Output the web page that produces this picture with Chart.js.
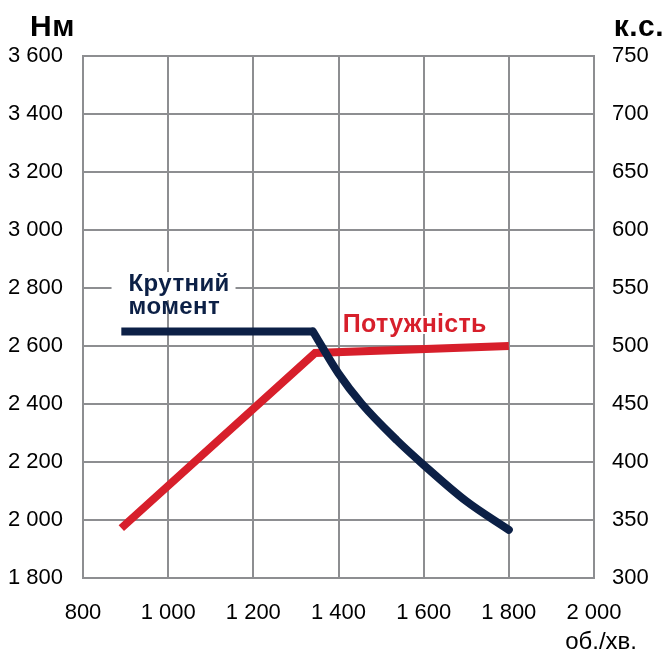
<!DOCTYPE html>
<html>
<head>
<meta charset="utf-8">
<script src="https://cdn.jsdelivr.net/npm/chart.js@4"></script>
<style>
    html, body { margin: 0; padding: 0; background: #fff; }
    #wrap { width: 665px; height: 650px; }
</style>
</head>
<body>
<div id="wrap"><canvas id="chart"></canvas></div>
<script>
// values
const rpmTicks = [800, 1000, 1200, 1400, 1600, 1800, 2000];
const torqueRpm = [890, 1340, 1400, 1455, 1537, 1600, 1700, 1800];
const torqueNm = [2650, 2650, 2505, 2400, 2275, 2190, 2065, 1966];
const powerRpm = [890, 1345, 1800];
const powerHp = [343, 494, 500];

const navy = '#0c2046';
const red = '#d71f2b';
const gridColor = '#8d8e91';
const fontFam = '"Liberation Sans", Arial, sans-serif';

const fmt = v => String(v).replace(/\B(?=(\d{3})+(?!\d))/g, ' ');

// flat part and falling part of the torque curve kept apart so the corner stays sharp
const flatPts = [], fallPts = [];
torqueRpm.forEach((r, i) => {
    const p = { x: r, y: torqueNm[i] };
    if (i <= 1) flatPts.push(p);
    if (i >= 1) fallPts.push(p);
});
const powerPts = powerRpm.map((r, i) => ({ x: r, y: powerHp[i] }));

const labelsPlugin = {
    id: 'labels',
    afterDatasetsDraw(chart) {
        const ctx = chart.ctx;
        const x = chart.scales.x, y = chart.scales.y;
        ctx.save();
        // white box behind "Крутний"
        ctx.fillStyle = '#fff';
        ctx.fillRect(x.getPixelForValue(867), y.getPixelForValue(2855), 124, 28);

        ctx.textBaseline = 'alphabetic';
        ctx.textAlign = 'left';
        ctx.font = 'bold 24px ' + fontFam;
        ctx.letterSpacing = '0.4px';
        ctx.fillStyle = navy;
        ctx.fillText('Крутний', x.getPixelForValue(907), y.getPixelForValue(2790));
        ctx.fillText('момент', x.getPixelForValue(907), y.getPixelForValue(2712));

        ctx.font = 'bold 25px ' + fontFam;
        ctx.letterSpacing = '0.3px';
        ctx.strokeStyle = '#fff';
        ctx.lineWidth = 4;
        ctx.lineJoin = 'round';
        const px = x.getPixelForValue(1410), py = y.getPixelForValue(2650);
        ctx.strokeText('Потужність', px, py);
        ctx.fillStyle = red;
        ctx.fillText('Потужність', px, py);

        // axis unit captions
        ctx.fillStyle = '#000';
        ctx.font = 'bold 30px ' + fontFam;
        ctx.letterSpacing = '0.5px';
        ctx.fillText('Нм', 30, 36);
        ctx.textAlign = 'right';
        ctx.fillText('к.с.', 664, 36);
        ctx.font = '24px ' + fontFam;
        ctx.letterSpacing = '0px';
        ctx.fillText('об./хв.', 637, 649);
        ctx.restore();
    }
};

new Chart(document.getElementById('chart'), {
    type: 'line',
    data: {
        datasets: [{
            label: 'Крутний момент',
            data: flatPts,
            borderColor: navy,
            borderWidth: 8,
            tension: 0,
            pointRadius: 0
        }, {
            label: 'Крутний момент (спад)',
            data: fallPts,
            borderColor: navy,
            borderWidth: 8,
            borderCapStyle: 'round',
            cubicInterpolationMode: 'monotone',
            pointRadius: 0
        }, {
            label: 'Потужність',
            data: powerPts,
            yAxisID: 'y1',
            borderColor: red,
            borderWidth: 8,
            tension: 0,
            pointRadius: 0
        }]
    },
    options: {
        responsive: true,
        maintainAspectRatio: false,
        animation: false,
        events: [],
        layout: { padding: { top: 56, left: 0, right: 0, bottom: 0 } },
        plugins: { legend: { display: false }, tooltip: { enabled: false } },
        scales: {
            x: {
                type: 'linear',
                min: 800, max: 2000,
                afterBuildTicks: s => { s.ticks = rpmTicks.map(v => ({ value: v })); },
                afterFit: s => { s.height = 72; },
                grid: { color: gridColor, lineWidth: 2, drawTicks: false },
                border: { color: gridColor, width: 2 },
                ticks: {
                    padding: 22,
                    color: '#000',
                    font: { family: fontFam, size: 22 },
                    callback: v => fmt(v),
                    maxRotation: 0
                }
            },
            y: {
                position: 'left',
                min: 1800, max: 3600,
                afterFit: s => { s.width = 83; },
                grid: { color: gridColor, lineWidth: 2, drawTicks: false },
                border: { color: gridColor, width: 2 },
                ticks: {
                    stepSize: 200,
                    padding: 20,
                    color: '#000',
                    font: { family: fontFam, size: 22 },
                    callback: v => fmt(v)
                }
            },
            y1: {
                position: 'right',
                min: 300, max: 750,
                afterFit: s => { s.width = 71; },
                grid: { drawOnChartArea: false, drawTicks: false },
                border: { color: gridColor, width: 2 },
                ticks: {
                    stepSize: 50,
                    padding: 18,
                    color: '#000',
                    font: { family: fontFam, size: 22 }
                }
            }
        }
    },
    plugins: [labelsPlugin]
});
</script>
</body>
</html>
